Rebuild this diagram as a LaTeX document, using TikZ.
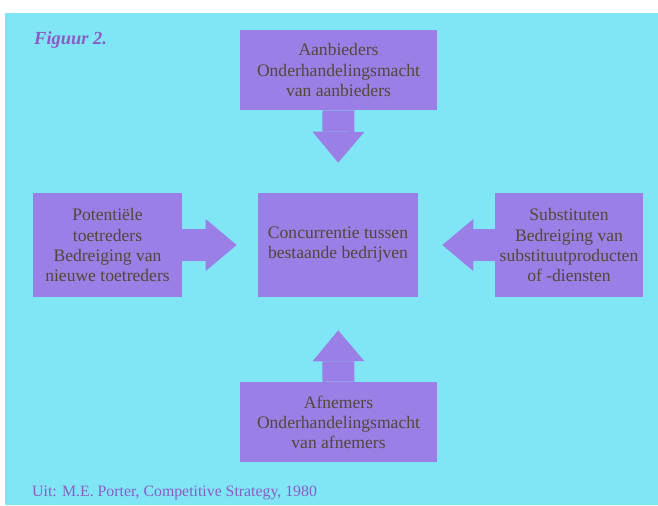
\documentclass[tikz,border=0pt]{standalone}
\usepackage{fontspec}
\setmainfont{Liberation Serif}
\usetikzlibrary{arrows.meta}
\definecolor{bgcyan}{HTML}{80E6F6}
\definecolor{boxviolet}{HTML}{9A7FE6}
\definecolor{textolive}{HTML}{554838}
\definecolor{labelpurple}{HTML}{8C5CC4}
\tikzset{
  forcebox/.style={fill=boxviolet, text=textolive, align=center, inner sep=0pt,
    font=\fontsize{10}{11.4}\selectfont},
  fatarrow/.style={draw=boxviolet, line width=0.64cm,
    -{Triangle[width=1.04cm, length=0.62cm, line width=0pt]}}
}
\begin{document}
\begin{tikzpicture}[x=0.02cm, y=-0.02cm]
  \useasboundingbox (0,0) rectangle (658,505);
  % Background
  \fill [bgcyan] (5,13) rectangle (658,505);

  % Figure label
  \node [anchor=west, text=labelpurple, font=\fontsize{10.5}{12}\selectfont\bfseries\itshape] (figlabel) at (28,40) {Figuur 2.};

  % Drawing the five boxes
  \node [forcebox, minimum width=3.94cm, minimum height=1.6cm] (aanbieders) at (338.5,70)
    {Aanbieders\\Onderhandelingsmacht\\van aanbieders};
  \node [forcebox, minimum width=2.98cm, minimum height=2.08cm] (toetreders) at (107.5,245)
    {Potentiële\\toetreders\\Bedreiging van\\nieuwe toetreders};
  \node [forcebox, minimum width=3.2cm, minimum height=2.08cm] (concurrentie) at (338,245)
    {Concurrentie tussen\\bestaande bedrijven};
  \node [forcebox, minimum width=2.96cm, minimum height=2.08cm] (substituten) at (569,245)
    {Substituten\\Bedreiging van\\substituutproducten\\of -diensten};
  \node [forcebox, minimum width=3.94cm, minimum height=1.6cm] (afnemers) at (338.5,422)
    {Afnemers\\Onderhandelingsmacht\\van afnemers};

  % Drawing the arrows
  \draw [fatarrow, shorten >=0.6cm] (aanbieders.south) -- (concurrentie.north);
  \draw [fatarrow, shorten >=0.42cm] (toetreders.east) -- (concurrentie.west);
  \draw [fatarrow, shorten >=0.48cm] (substituten.west) -- (concurrentie.east);
  \draw [fatarrow, shorten >=0.66cm] (afnemers.north) -- (concurrentie.south);

  % Source line
  \node [anchor=west, text=labelpurple, font=\fontsize{9}{11}\selectfont] (bron) at (26,493)
    {Uit: M.E. Porter, Competitive Strategy, 1980};
\end{tikzpicture}
\end{document}
